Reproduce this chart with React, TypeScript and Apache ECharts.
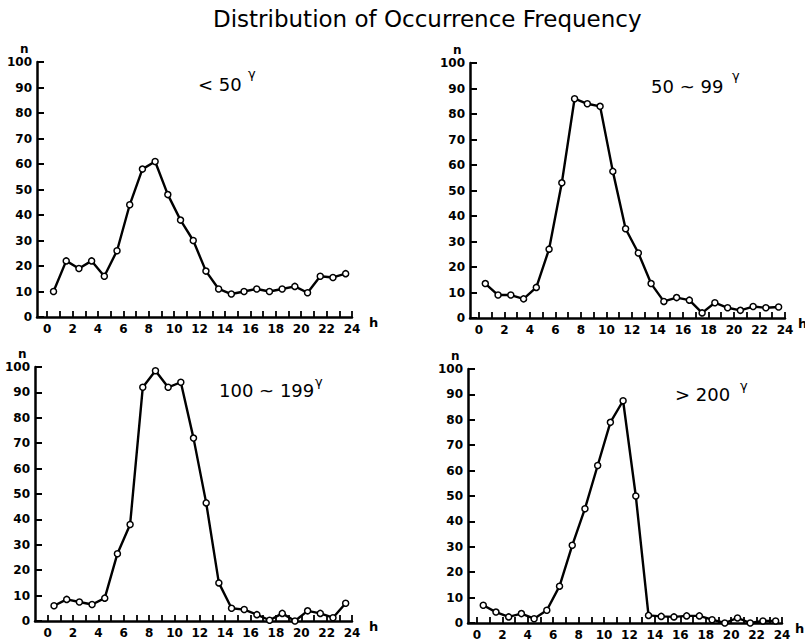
import React, { useEffect, useRef } from "react";
import * as echarts from "echarts";

const titleText = "Distribution of Occurrence Frequency";
const hours = [0.5, 1.5, 2.5, 3.5, 4.5, 5.5, 6.5, 7.5, 8.5, 9.5, 10.5, 11.5, 12.5, 13.5, 14.5, 15.5, 16.5, 17.5, 18.5, 19.5, 20.5, 21.5, 22.5, 23.5];
const xTicks = [0, 1, 2, 3, 4, 5, 6, 7, 8, 9, 10, 11, 12, 13, 14, 15, 16, 17, 18, 19, 20, 21, 22, 23, 24];
const xLabels = [0, 2, 4, 6, 8, 10, 12, 14, 16, 18, 20, 22, 24];

const below50 = [10, 22, 19, 22, 16, 26, 44, 58, 61, 48, 38, 30, 18, 11, 9, 10, 11, 10, 11, 12, 9.5, 16, 15.5, 17];
const from50to99 = [13.5, 9, 9, 7.5, 12, 27, 53, 86, 84, 83, 57.5, 35, 25.5, 13.5, 6.5, 8, 7, 2, 6, 4, 3, 4.5, 4, 4.3];
const from100to199 = [6, 8.5, 7.5, 6.5, 9, 26.5, 38, 92, 98.5, 92, 94, 72, 46.5, 15, 5, 4.5, 2.5, 0.3, 3, 0, 4, 3, 1.3, 7];
const above200 = [7, 4.3, 2.4, 3.7, 1.7, 5, 14.5, 30.6, 45, 62, 79, 87.5, 50, 3, 2.6, 2.4, 2.8, 2.8, 1.3, 0, 2, 0, 0.8, 0.8];

const panelLabels = ["< 50", "50 ~ 99", "100 ~ 199", "> 200"];
const gammaSign = "γ";
const panelValues = [below50, from50to99, from100to199, above200];
const yName = "n";
const xName = "h";

const grids = [
  { left: 37, top: 62, width: 315, height: 255, xMin: -0.8, labelX: 193, labelY: 70, gammaX: 243, gammaY: 62, hGap: 12 },
  { left: 470, top: 63, width: 315, height: 255, xMin: -0.7, labelX: 646, labelY: 72, gammaX: 727, gammaY: 64, hGap: 8 },
  { left: 35, top: 367, width: 317, height: 254, xMin: -1.0, labelX: 214, labelY: 376, gammaX: 310, gammaY: 370, hGap: 12 },
  { left: 468, top: 369, width: 314, height: 254, xMin: -0.7, labelX: 670, labelY: 380, gammaX: 735, gammaY: 374, hGap: 8 },
];

const FONT = "DejaVu Sans";
const INK = "#000";

export default function App() {
  const ref = useRef<HTMLDivElement>(null);
  useEffect(() => {
    if (!ref.current) return;
    const chart = echarts.init(ref.current, null, { renderer: "svg" });
    const option: any = {
      animation: false,
      title: [
        {
          text: titleText,
          left: 208,
          top: 2,
          textStyle: { fontFamily: FONT, fontSize: 23, fontWeight: "normal", color: INK },
        },
        ...grids.map((g, i) => ({
          text: panelLabels[i],
          left: g.labelX,
          top: g.labelY,
          textStyle: { fontFamily: FONT, fontSize: 18, fontWeight: "normal", color: INK },
        })),
        ...grids.map((g) => ({
          text: gammaSign,
          left: g.gammaX,
          top: g.gammaY,
          textStyle: { fontFamily: FONT, fontSize: 13, fontWeight: "normal", color: INK },
        })),
        ...grids.map((g) => ({
          text: yName,
          left: g.left - 22,
          top: g.top - 24,
          textStyle: { fontFamily: FONT, fontSize: 12, fontWeight: "bold", color: INK },
        })),
        ...grids.map((g) => ({
          text: xName,
          left: g.left + g.width + g.hGap,
          top: g.top + g.height - 6,
          textStyle: { fontFamily: FONT, fontSize: 13, fontWeight: "bold", color: INK },
        })),
      ],
      grid: grids.map((g) => ({ left: g.left, top: g.top, width: g.width, height: g.height })),
      xAxis: grids.map((g, i) => ({
        type: "value",
        gridIndex: i,
        min: g.xMin,
        max: 24,
        axisLine: { show: true, lineStyle: { color: INK, width: 2.5 } },
        axisTick: { show: true, inside: true, length: 6, customValues: xTicks, lineStyle: { color: INK, width: 1.8 } },
        axisLabel: {
          customValues: xLabels,
          fontFamily: FONT,
          fontSize: 12,
          fontWeight: "bold",
          color: INK,
          margin: 6,
        },
        splitLine: { show: false },
      })),
      yAxis: grids.map((g, i) => ({
        type: "value",
        gridIndex: i,
        min: 0,
        max: 100,
        interval: 10,
        axisLine: { show: true, onZero: false, lineStyle: { color: INK, width: 2.5 } },
        axisTick: { show: true, inside: true, length: 7, lineStyle: { color: INK, width: 2 } },
        axisLabel: { fontFamily: FONT, fontSize: 12, fontWeight: "bold", color: INK, margin: 5 },
        splitLine: { show: false },
      })),
      series: panelValues.map((vals, i) => ({
        type: "line",
        xAxisIndex: i,
        yAxisIndex: i,
        data: hours.map((h, k) => [h, vals[k]]),
        symbol: "circle",
        symbolSize: 6,
        showAllSymbol: true,
        lineStyle: { color: INK, width: 2.4 },
        itemStyle: { color: "#fff", borderColor: INK, borderWidth: 1.5 },
      })),
    };
    chart.setOption(option);
    return () => chart.dispose();
  }, []);
  return <div ref={ref} style={{ position: "absolute", left: 0, top: 0, width: 805, height: 644 }} />;
}
